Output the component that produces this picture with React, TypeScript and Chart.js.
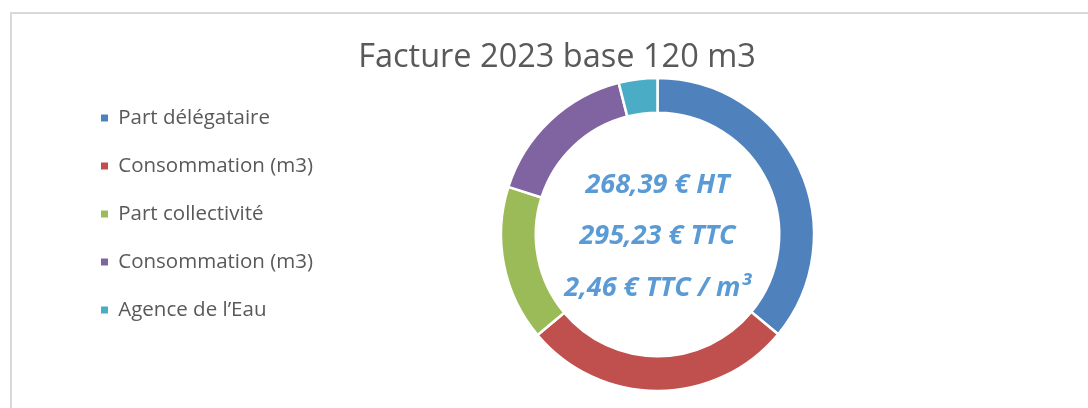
import React, { useEffect, useRef } from "react";
import { Chart, registerables } from "chart.js";

Chart.register(...registerables);

const TITLE = "Facture 2023 base 120 m3";
const LABELS = [
  "Part délégataire",
  "Consommation (m3)",
  "Part collectivité",
  "Consommation (m3)",
  "Agence de l’Eau",
];
const VALUES = [96.6, 74.9, 43.0, 43.2, 10.7];
const COLORS = ["#4f81bd", "#c0504d", "#9bbb59", "#8064a2", "#4bacc6"];
const CENTER_LINES = ["268,39 € HT", "295,23 € TTC", "2,46 € TTC / m³"];

const centerTextPlugin = {
  id: "centerText",
  beforeDraw(chart: any) {
    // widen the legend's clip box so that long labels are not cut
    const lg = chart.legend;
    if (lg) {
      lg.width = 320;
      lg.right = lg.left + 320;
    }
  },
  afterDraw(chart: any) {
    const { ctx, chartArea } = chart;
    const cx = (chartArea.left + chartArea.right) / 2;
    const cy = (chartArea.top + chartArea.bottom) / 2;
    ctx.save();
    ctx.font = "italic bold 27px 'Open Sans'";
    ctx.fillStyle = "#5b9bd5";
    ctx.textAlign = "center";
    ctx.textBaseline = "middle";
    const offsets = [-51, 0, 52];
    CENTER_LINES.forEach((t, i) => ctx.fillText(t, cx, cy + 2 + offsets[i]));
    ctx.restore();
  },
};

export default function App() {
  const ref = useRef<HTMLCanvasElement>(null);
  useEffect(() => {
    if (!ref.current) return;
    Chart.defaults.font.family = "'Open Sans'";
    const baseGen = (Chart as any).overrides.doughnut.plugins.legend.labels.generateLabels;
    const chart = new Chart(ref.current, {
      type: "doughnut",
      data: {
        labels: LABELS,
        datasets: [
          {
            data: VALUES,
            backgroundColor: COLORS,
            borderColor: "#ffffff",
            borderWidth: 2.5,
          },
        ],
      },
      options: {
        responsive: false,
        animation: false,
        radius: 156.5,
        cutout: 119,
        layout: { padding: { left: 73.5, right: 47.5, top: 0, bottom: 19.25 } },
        plugins: {
          title: {
            display: true,
            text: TITLE,
            color: "#595959",
            font: { size: 32.5, weight: "normal", family: "'Open Sans'" },
            padding: { top: 38, bottom: 3.25 },
          },
          legend: {
            position: "left",
            align: "start",
            fullSize: false,
            maxWidth: 201,
            labels: {
              boxWidth: 7,
              boxHeight: 7,
              padding: 27.5,
              color: "#595959",
              font: { size: 20.5, family: "'Open Sans'" },
              generateLabels: (c: any) =>
                baseGen(c).map((it: any) => ({ ...it, lineWidth: 0 })),
            },
          },
          tooltip: { enabled: false },
        },
      } as any,
      plugins: [centerTextPlugin],
    });
    return () => chart.destroy();
  }, []);
  return (
    <div
      style={{
        position: "absolute",
        left: 0,
        top: 0,
        width: 1088,
        height: 408,
        overflow: "hidden",
        background: "#ffffff",
      }}
    >
      <div
        style={{
          position: "absolute",
          left: 10,
          top: 12,
          width: 1200,
          height: 600,
          borderLeft: "2px solid #d9d9d9",
          borderTop: "2px solid #d9d9d9",
        }}
      />
      <canvas
        ref={ref}
        width={1088}
        height={408}
        style={{ position: "absolute", left: 0, top: 0, width: 1088, height: 408 }}
      />
    </div>
  );
}
